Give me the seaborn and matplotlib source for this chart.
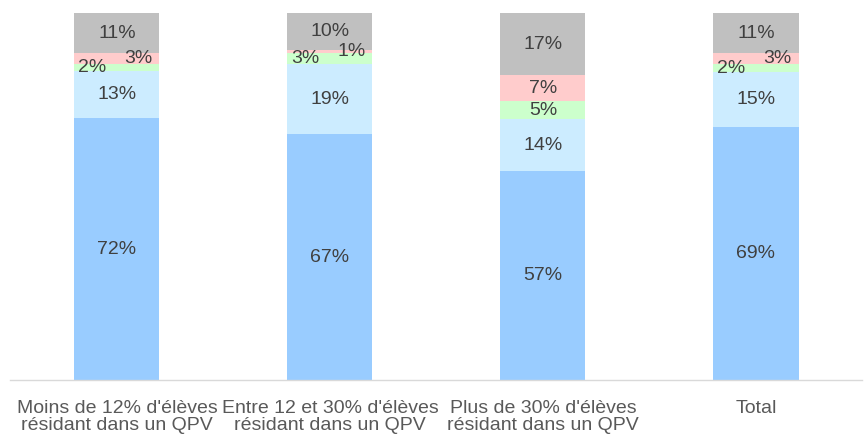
import matplotlib
matplotlib.use("Agg")
import matplotlib.pyplot as plt
import seaborn as sns
import numpy as np
import pandas as pd

categories = [
    "Moins de 12% d'élèves\nrésidant dans un QPV",
    "Entre 12 et 30% d'élèves\nrésidant dans un QPV",
    "Plus de 30% d'élèves\nrésidant dans un QPV",
    "Total",
]
blue = [72, 67, 57, 69]
light_blue = [13, 19, 14, 15]
green = [2, 3, 5, 2]
pink = [3, 1, 7, 3]
gray = [11, 10, 17, 11]

series = [blue, light_blue, green, pink, gray]
colors = ["#99CCFF", "#CCECFF", "#CCFFCC", "#FFCCCC", "#C0C0C0"]

vals = np.array(series, dtype=float)
shares = vals / vals.sum(axis=0) * 100  # 100% stacked
tops = shares.cumsum(axis=0)
bottoms = tops - shares

sns.set_style("white")
plt.rcParams["font.family"] = ["Liberation Sans", "DejaVu Sans"]

fig, ax = plt.subplots(figsize=(8.65, 4.34), dpi=100)
fig.subplots_adjust(left=0.012, right=0.997, bottom=0.124, top=0.970)

# draw from the top segment down so the shorter cumulative bars sit in front
for i in range(len(series) - 1, -1, -1):
    df = pd.DataFrame({"cat": categories, "h": tops[i]})
    sns.barplot(data=df, x="cat", y="h", color=colors[i], width=0.4,
                saturation=1, ax=ax, linewidth=0)

# data labels
for i in range(len(series)):
    for j in range(len(categories)):
        v = series[i][j]
        y = bottoms[i][j] + shares[i][j] / 2
        x = j
        if shares[i][j] < 4:
            x = j - 0.117 if i == 2 else j + 0.10
        ax.text(x, y, f"{v}%", ha="center", va="center",
                fontsize=14, color="#404040")

ax.set_xlim(-0.5, 3.5)
ax.set_ylim(0, 100)
ax.set_yticks([])
ax.set_xlabel("")
ax.set_ylabel("")
ax.tick_params(axis="x", labelsize=14, colors="#595959", length=0, pad=14)
for lbl in ax.get_xticklabels():
    lbl.set_linespacing(1.05)
for s in ["top", "right", "left"]:
    ax.spines[s].set_visible(False)
ax.spines["bottom"].set_color("#D9D9D9")
ax.spines["bottom"].set_linewidth(1)

plt.savefig("out.png", dpi=100)
